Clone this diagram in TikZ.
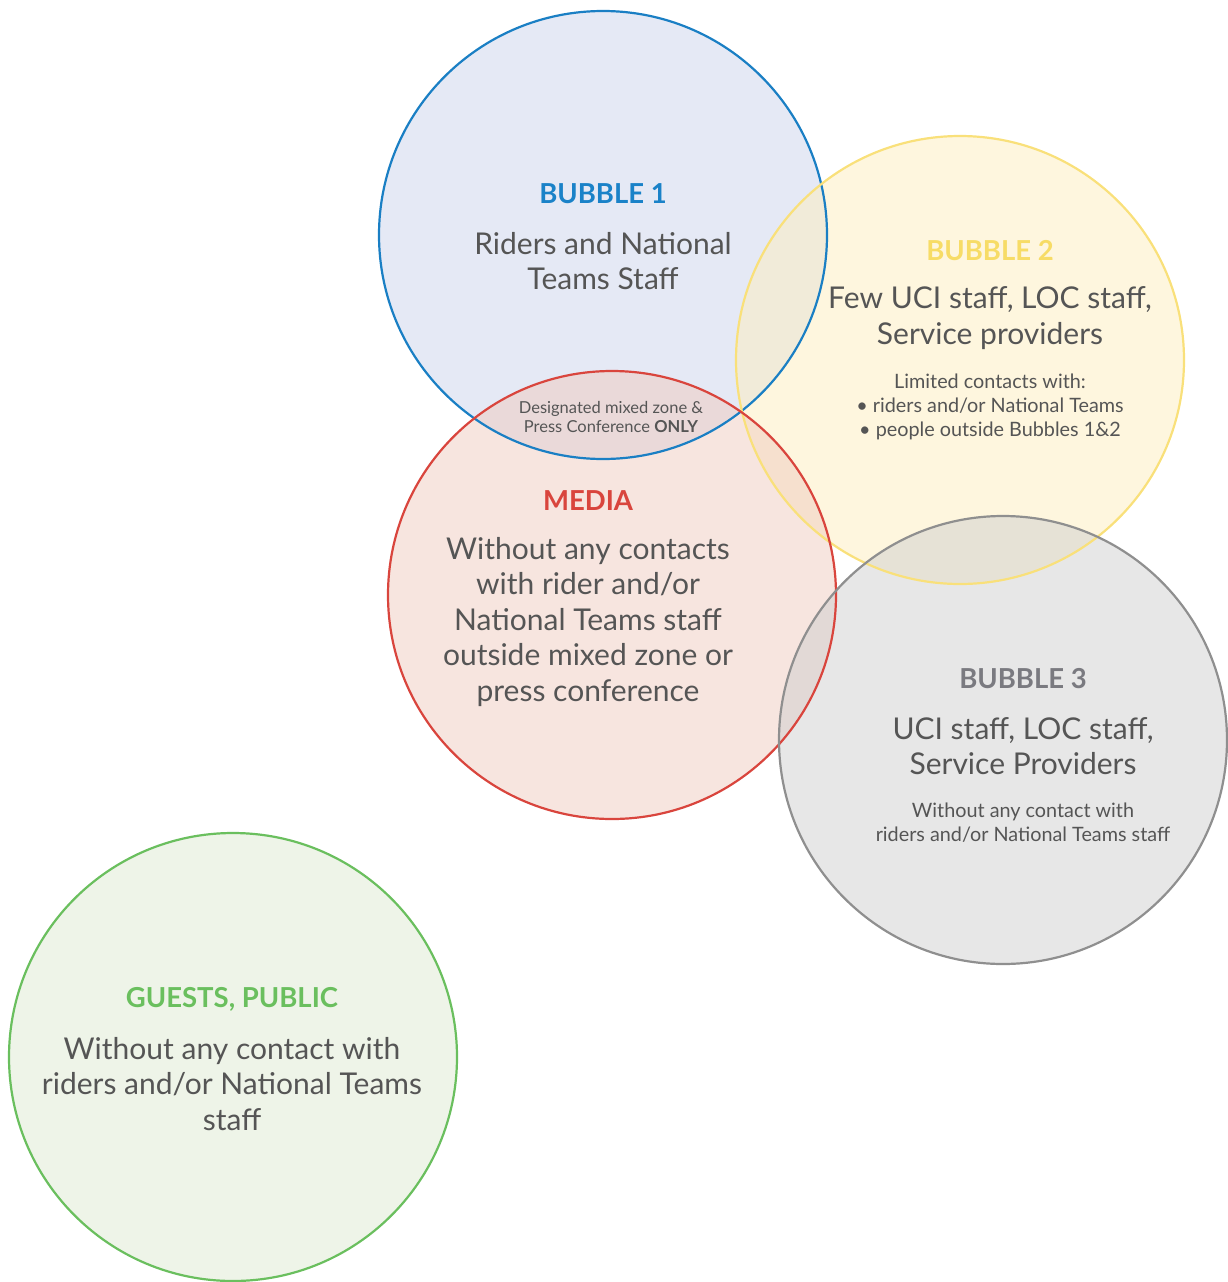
\documentclass[tikz,border=0pt]{standalone}
\usepackage{fontspec}
\setmainfont{Lato}
\definecolor{bonestroke}{HTML}{1A7FC4}
\definecolor{bonefill}{rgb}{0.796,0.828,0.922}
\definecolor{btwostroke}{HTML}{F9E07A}
\definecolor{btwofill}{rgb}{0.992,0.93,0.74}
\definecolor{mediastroke}{HTML}{D9453D}
\definecolor{mediafill}{rgb}{0.938,0.796,0.75}
\definecolor{bthreestroke}{HTML}{8F8F8F}
\definecolor{bthreefill}{rgb}{0.812,0.812,0.812}
\definecolor{gueststroke}{HTML}{6ABF5E}
\definecolor{guestfill}{HTML}{EEF4E8}
\definecolor{bodytext}{HTML}{555555}
\definecolor{bonetitle}{HTML}{1A82C8}
\definecolor{btwotitle}{HTML}{F7DC66}
\definecolor{mediatitle}{HTML}{D9453D}
\definecolor{bthreetitle}{HTML}{7A7A80}
\definecolor{gueststitle}{HTML}{6ABF5E}
\begin{document}
\begin{tikzpicture}[x=1pt,y=-1pt,
  bubblefill/.style={fill opacity=0.5},
  bubbleline/.style={line width=2.2pt},
  titletext/.style={font=\fontsize{27.5}{32}\selectfont\bfseries, align=center, inner sep=0pt},
  bodytxt/.style={font=\fontsize{30}{35.5}\selectfont, align=center, text=bodytext, inner sep=0pt},
  smalltxt/.style={font=\fontsize{19.8}{24}\selectfont, align=center, text=bodytext, inner sep=0pt},
  tinytxt/.style={font=\fontsize{16.5}{19}\selectfont, align=center, text=bodytext, inner sep=0pt}]
\useasboundingbox (0,0) rectangle (1227,1282);
% fills
\fill[bonefill, bubblefill] (603,235) circle (224);
\fill[btwofill, bubblefill] (960,360) circle (224);
\fill[mediafill, bubblefill] (612,595) circle (224);
\fill[bthreefill, bubblefill] (1003,740) circle (224);
\fill[guestfill] (233,1057) circle (224);
% strokes
\node[circle, minimum size=448pt, draw=bonestroke, bubbleline] (b1) at (603,235) {};
\node[circle, minimum size=448pt, draw=btwostroke, bubbleline] (b2) at (960,360) {};
\node[circle, minimum size=448pt, draw=mediastroke, bubbleline] (med) at (612,595) {};
\node[circle, minimum size=448pt, draw=bthreestroke, bubbleline] (b3) at (1003,740) {};
\node[circle, minimum size=448pt, draw=gueststroke, bubbleline] (gst) at (233,1057) {};
% texts
\node[titletext, text=bonetitle] (t1) at (603,194) {BUBBLE 1};
\node[bodytxt] (d1) at (603,261) {Riders and National\\Teams Staff};
\node[titletext, text=btwotitle] (t2) at (990,251) {BUBBLE 2};
\node[bodytxt] (d2) at (990,318) {Few UCI staff, LOC staff,\\Service providers};
\node[smalltxt] (s2) at (990,407) {Limited contacts with:\\• riders and/or National Teams\\• people outside Bubbles 1\&2};
\node[tinytxt] (mz) at (611,417) {Designated mixed zone \&\\Press Conference \textbf{ONLY}};
\node[titletext, text=mediatitle] (tm) at (588,501) {MEDIA};
\node[bodytxt] (dm) at (588,622) {Without any contacts\\with rider and/or\\National Teams staff\\outside mixed zone or\\press conference};
\node[titletext, text=bthreetitle] (t3) at (1023,679) {BUBBLE 3};
\node[bodytxt] (d3) at (1023,746) {UCI staff, LOC staff,\\Service Providers};
\node[smalltxt] (s3) at (1023,823) {Without any contact with\\riders and/or National Teams staff};
\node[titletext, text=gueststitle] (tg) at (232,999) {GUESTS, PUBLIC};
\node[bodytxt] (dg) at (232,1084) {Without any contact with\\riders and/or National Teams\\staff};
\end{tikzpicture}
\end{document}
